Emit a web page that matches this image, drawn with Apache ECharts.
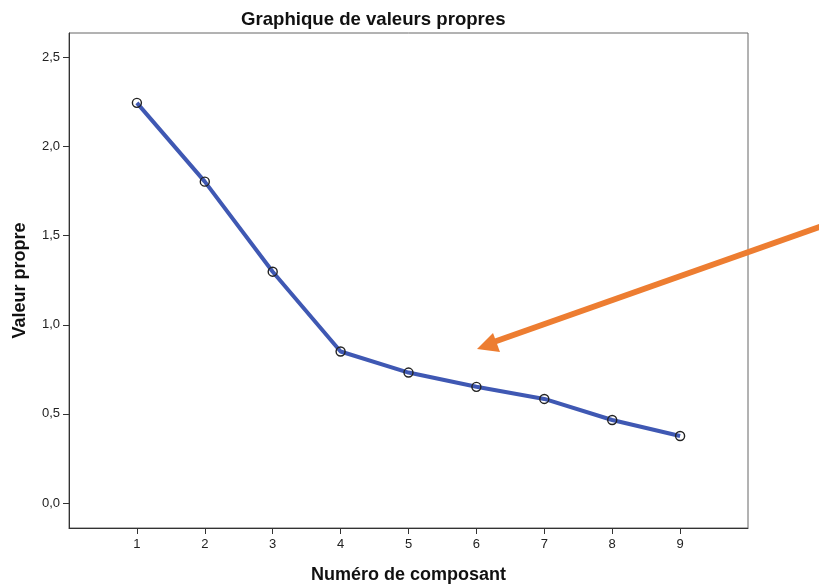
<!DOCTYPE html>
<html lang="fr">
<head>
    <meta charset="UTF-8">
    <title>Graphique de valeurs propres</title>
    <script type="text/javascript" src="https://cdn.jsdelivr.net/npm/echarts@6/dist/echarts.min.js"></script>
    <style type="text/css">
        html, body { margin: 0; padding: 0; background: #fff; }
        #chart { width: 819px; height: 584px; }
    </style>
</head>
<body>
    <div id="chart"></div>
</body>

<script type="text/javascript">
    // composants et valeurs propres
    var composants = [1, 2, 3, 4, 5, 6, 7, 8, 9];
    var valeursPropres = [2.245, 1.803, 1.298, 0.850, 0.732, 0.652, 0.584, 0.466, 0.376];
    var yTicks = [0, 0.5, 1.0, 1.5, 2.0, 2.5];

    var seriesData = [];
    for (var i = 0; i < composants.length; i++) {
        seriesData.push([composants[i], valeursPropres[i]]);
    }

    var chart = echarts.init(document.getElementById("chart"));
    var fontFam = "'Liberation Sans', Arial, sans-serif";

    var options = {
        animation: false,
        title: {
            text: 'Graphique de valeurs propres',
            left: 236, top: 5,
            textStyle: { fontFamily: fontFam, fontSize: 18.6, fontWeight: 'bold', color: '#111' }
        },
        grid: {
            left: 69, top: 33, width: 679, height: 495,
            containLabel: false, outerBoundsMode: 'none',
            show: true, borderColor: '#666', borderWidth: 1, backgroundColor: '#fff'
        },
        xAxis: {
            type: 'value', min: 0, max: 10, interval: 1,
            name: 'Numéro de composant',
            nameLocation: 'middle', nameGap: 38,
            nameTextStyle: { fontFamily: fontFam, fontSize: 18, fontWeight: 'bold', color: '#111' },
            axisLine: { show: true, onZero: false, lineStyle: { color: '#333', width: 1 } },
            axisTick: { show: true, length: 6, customValues: composants, lineStyle: { color: '#333' } },
            axisLabel: {
                customValues: composants, margin: 10,
                fontFamily: fontFam, fontSize: 13, color: '#222'
            },
            splitLine: { show: false }
        },
        yAxis: {
            type: 'value', min: -0.14, max: 2.637,
            name: 'Valeur propre',
            nameLocation: 'middle', nameGap: 40, nameRotate: 90,
            nameTextStyle: { fontFamily: fontFam, fontSize: 18, fontWeight: 'bold', color: '#111' },
            axisLine: { show: true, onZero: false, lineStyle: { color: '#333', width: 1 } },
            axisTick: { show: true, length: 6, customValues: yTicks, lineStyle: { color: '#333' } },
            axisLabel: {
                customValues: yTicks, margin: 9,
                fontFamily: fontFam, fontSize: 13, color: '#222',
                formatter: function (v) { return v.toFixed(1).replace('.', ','); }
            },
            splitLine: { show: false }
        },
        series: [{
            type: 'line',
            data: seriesData,
            symbol: 'circle',
            symbolSize: 9,
            lineStyle: { color: '#3f58b3', width: 4 },
            itemStyle: { color: 'rgba(255,255,255,0)', borderColor: '#222', borderWidth: 1.4 },
            z: 3
        }],
        graphic: [
            {
                type: 'line', z: 10,
                shape: { x1: 822, y1: 226, x2: 488, y2: 344 },
                style: { stroke: '#ed7d31', lineWidth: 6 }
            },
            {
                type: 'polygon', z: 10,
                shape: { points: [[477, 349], [493, 333], [500, 352]] },
                style: { fill: '#ed7d31' }
            }
        ]
    };
    chart.setOption(options);
</script>
</html>
